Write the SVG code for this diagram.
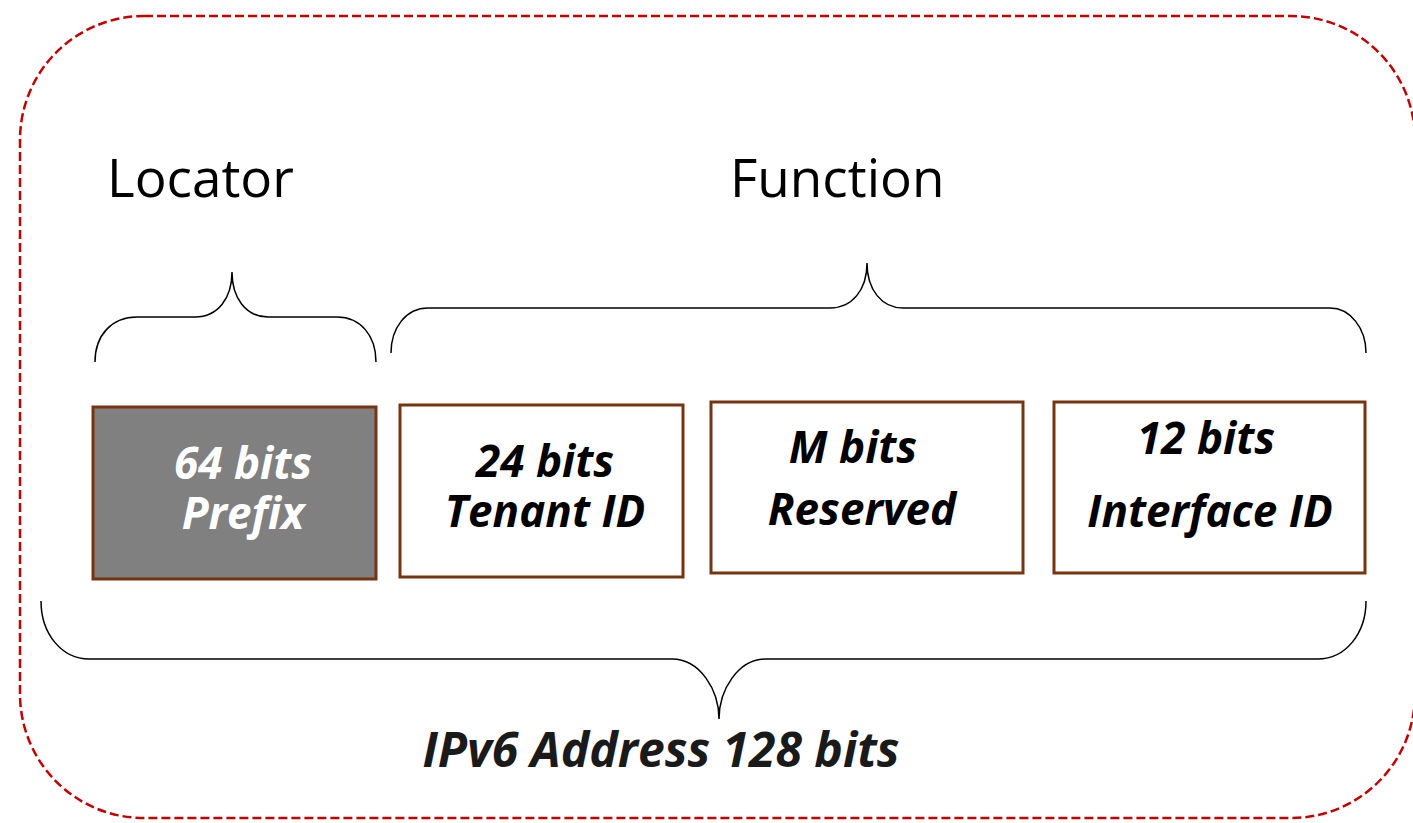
<svg xmlns="http://www.w3.org/2000/svg" width="1413" height="823" viewBox="0 0 1413 823">
  <style>
    .brace { fill: none; stroke: #000; stroke-width: 1.5; }
    .box { stroke: #763510; stroke-width: 3; }
    .bt { font-family: "Open Sans", "Noto Sans", sans-serif; font-weight: bold; font-style: italic; font-size: 44px; text-anchor: middle; }
    .head { font-family: "Open Sans", "Noto Sans", sans-serif; font-size: 53px; fill: #000; }
  </style>
  <rect x="0" y="0" width="1413" height="823" fill="#fff"/>
  <g id="frame">
    <rect x="20" y="16" width="1395" height="802" rx="124" ry="124" fill="none" stroke="#c00000" stroke-width="2.5" stroke-dasharray="9 4"/>
  </g>
  <g id="locator-label">
    <text class="head" x="107" y="197">Locator</text>
  </g>
  <g id="function-label">
    <text class="head" x="730" y="197">Function</text>
  </g>
  <g id="connectors">
    <path class="brace" d="M95,362 C95,335 112,317 137,317 L195,317 C218,317 232,298 232,272 C232,298 246,317 268,317 L337,317 C360,317 376,335 376,362"/>
    <path class="brace" d="M391,353 C391,328 406,308 428,308 L830,308 C852,308 867,290 867,263 C867,290 882,308 903,308 L1330,308 C1350,308 1366,328 1366,353"/>
    <path class="brace" d="M41,601 C41,634 62,659 89,659 L672,659 C700,659 719,690 719,719 C719,690 738,659 766,659 L1318,659 C1345,659 1366,634 1366,601"/>
  </g>
  <g id="prefix">
    <rect class="box" x="93" y="407" width="283" height="172" fill="#808080"/>
    <text class="bt" fill="#fff"><tspan x="243" y="479">64 bits</tspan><tspan x="243" y="529">Prefix</tspan></text>
  </g>
  <g id="tenant">
    <rect class="box" x="400" y="405" width="283" height="172" fill="#fff"/>
    <text class="bt" fill="#000"><tspan x="545" y="477">24 bits</tspan><tspan x="545" y="527">Tenant ID</tspan></text>
  </g>
  <g id="reserved">
    <rect class="box" x="711" y="402" width="312" height="171" fill="#fff"/>
    <text class="bt" fill="#000"><tspan x="853" y="463">M bits</tspan><tspan x="862" y="525">Reserved</tspan></text>
  </g>
  <g id="interface">
    <rect class="box" x="1054" y="402" width="311" height="171" fill="#fff"/>
    <text class="bt" fill="#000"><tspan x="1206" y="454">12 bits</tspan><tspan x="1210" y="527">Interface ID</tspan></text>
  </g>
  <g id="ipv6-label">
    <text class="bt" x="661" y="767" fill="#1a1a1a" style="font-size:48px">IPv6 Address 128 bits</text>
  </g>
</svg>
